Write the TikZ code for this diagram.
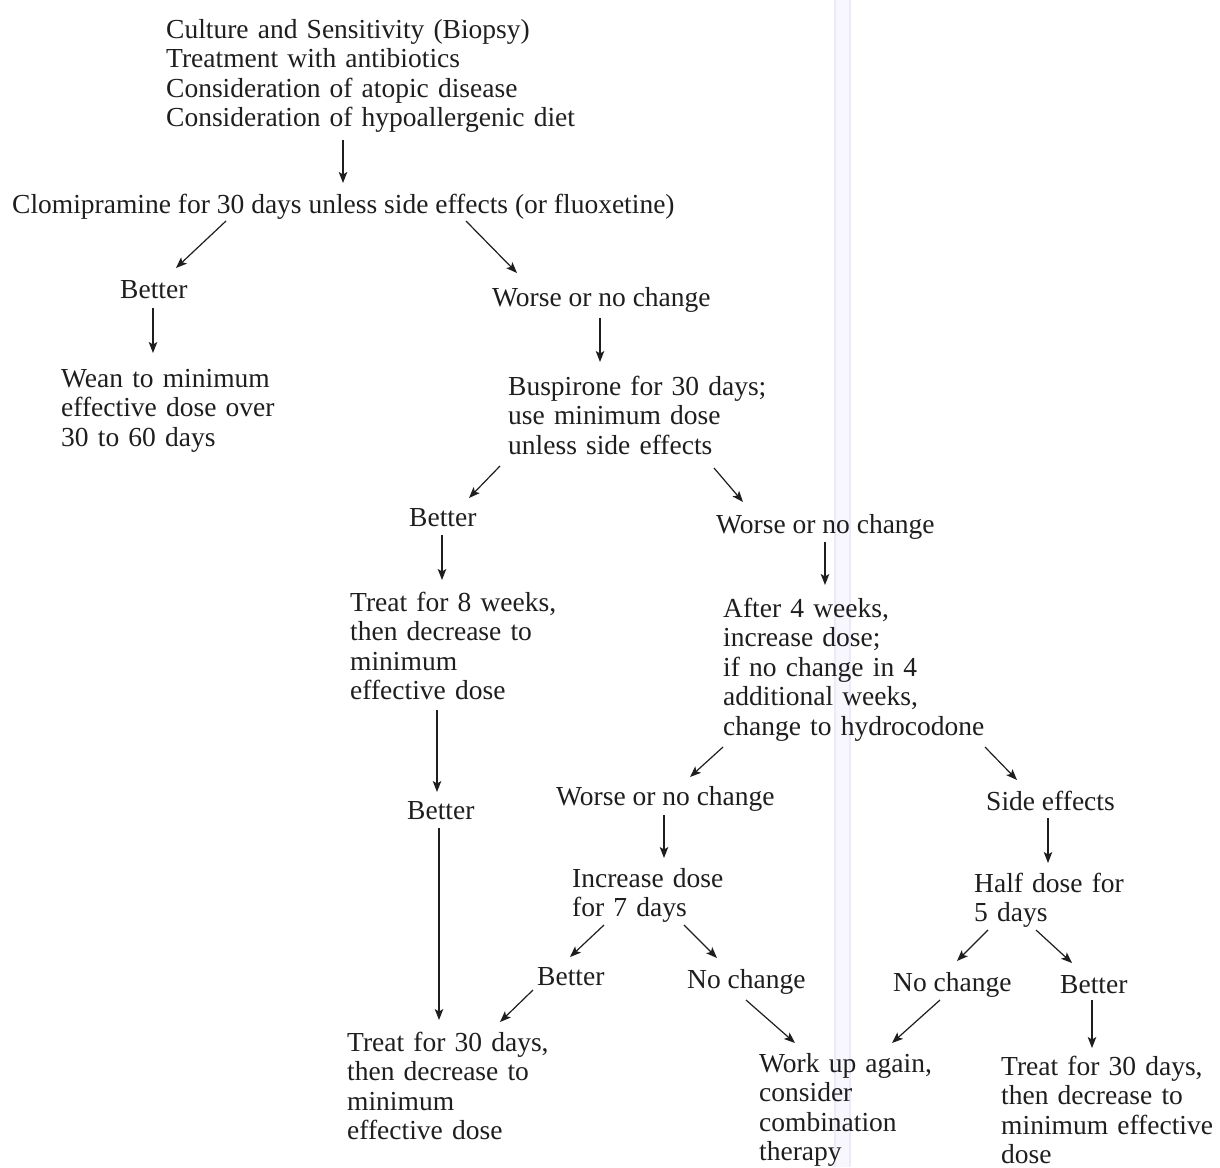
\documentclass[tikz,border=0pt]{standalone}
\usepackage{fontspec}
\setmainfont{Liberation Serif}
\usetikzlibrary{arrows.meta,calc}
\definecolor{ink}{HTML}{1E1E1E}
\definecolor{strip}{HTML}{F8F7FD}
\definecolor{stripedge}{HTML}{ECE9F8}
\begin{document}
\begin{tikzpicture}[x=1pt,y=-1pt,
  lbl/.style={anchor=base west,inner sep=0pt,text=ink,
    font=\fontsize{27.5}{29.5}\selectfont},
  blk/.style={lbl,text width=#1,align=left},
  blk/.default=520pt,
  arr/.style={-{Stealth[length=11pt,width=8.5pt,inset=2.5pt]},
    line width=1.2pt,draw=ink}]

% page
\useasboundingbox (0,0) rectangle (1220,1167);
\fill[white] (0,0) rectangle (1220,1167);
\fill[strip] (834,0) rectangle (851,1167);
\draw[stripedge,line width=1.5pt] (835,0) -- (835,1167);
\draw[stripedge,line width=1.5pt] (850,0) -- (850,1167);

% texts
\node[blk] (top) at (166,38) {Culture and Sensitivity (Biopsy)\\Treatment with antibiotics\\Consideration of atopic disease\\Consideration of hypoallergenic diet};
\node[lbl] (clomi) at (12,213) {Clomipramine for 30 days unless side effects (or fluoxetine)};
\node[lbl] (better1) at (120,298) {Better};
\node[lbl] (worse1) at (492,306) {Worse or no change};
\node[blk] (wean) at (61,387) {Wean to minimum\\effective dose over\\30 to 60 days};
\node[blk] (busp) at (508,395) {Buspirone for 30 days;\\use minimum dose\\unless side effects};
\node[lbl] (better2) at (409,526) {Better};
\node[lbl] (worse2) at (716,533) {Worse or no change};
\node[blk] (treat8) at (350,611) {Treat for 8 weeks,\\then decrease to\\minimum\\effective dose};
\node[blk] (after4) at (723,617) {After 4 weeks,\\increase dose;\\if no change in 4\\additional weeks,\\change to hydrocodone};
\node[lbl] (better3) at (407,819) {Better};
\node[lbl] (worse3) at (556,805) {Worse or no change};
\node[lbl] (side) at (986,810) {Side effects};
\node[blk] (incr) at (572,887) {Increase dose\\for 7 days};
\node[blk] (half) at (974,892) {Half dose for\\5 days};
\node[lbl] (better4) at (537,985) {Better};
\node[lbl] (nochange1) at (687,988) {No change};
\node[lbl] (nochange2) at (893,991) {No change};
\node[lbl] (better5) at (1060,993) {Better};
\node[blk] (treatL) at (347,1051) {Treat for 30 days,\\then decrease to\\minimum\\effective dose};
\node[blk] (workup) at (759,1072) {Work up again,\\consider\\combination\\therapy};
\node[blk=215pt] (treatR) at (1001,1075) {Treat for 30 days,\\then decrease to\\minimum effective\\dose};

% connectors
\draw[arr] ($(top.base west)+(177,102)$) -- ($(clomi.base west)+(331,-30)$);
\draw[arr] ($(clomi.base west)+(214,8)$) -- ($(better1.base west)+(56,-30)$);
\draw[arr] ($(clomi.base west)+(454,8)$) -- ($(worse1.base west)+(25,-33)$);
\draw[arr] ($(better1.base west)+(33,10)$) -- ($(wean.base west)+(92,-34)$);
\draw[arr] ($(worse1.base west)+(108,12)$) -- ($(busp.base west)+(92,-33)$);
\draw[arr] ($(busp.base west)+(-8,71)$) -- ($(better2.base west)+(60,-28)$);
\draw[arr] ($(busp.base west)+(206,73)$) -- ($(worse2.base west)+(27,-31)$);
\draw[arr] ($(better2.base west)+(33,9)$) -- ($(treat8.base west)+(92,-31)$);
\draw[arr] ($(worse2.base west)+(109,9)$) -- ($(after4.base west)+(102,-32)$);
\draw[arr] ($(treat8.base west)+(87,99)$) -- ($(better3.base west)+(30,-27)$);
\draw[arr] ($(after4.base west)+(0,130)$) -- ($(worse3.base west)+(134,-28)$);
\draw[arr] ($(after4.base west)+(262,130)$) -- ($(side.base west)+(31,-30)$);
\draw[arr] ($(better3.base west)+(32,9)$) -- ($(treatL.base west)+(92,-31)$);
\draw[arr] ($(worse3.base west)+(108,10)$) -- ($(incr.base west)+(92,-29)$);
\draw[arr] ($(side.base west)+(62,8)$) -- ($(half.base west)+(74,-29)$);
\draw[arr] ($(incr.base west)+(32,38)$) -- ($(better4.base west)+(33,-28)$);
\draw[arr] ($(incr.base west)+(112,38)$) -- ($(nochange1.base west)+(30,-30)$);
\draw[arr] ($(half.base west)+(14,38)$) -- ($(nochange2.base west)+(64,-30)$);
\draw[arr] ($(half.base west)+(62,38)$) -- ($(better5.base west)+(12,-30)$);
\draw[arr] ($(better4.base west)+(-4,5)$) -- ($(treatL.base west)+(153,-29)$);
\draw[arr] ($(nochange1.base west)+(59,12)$) -- ($(workup.base west)+(36,-29)$);
\draw[arr] ($(nochange2.base west)+(47,9)$) -- ($(workup.base west)+(133,-29)$);
\draw[arr] ($(better5.base west)+(32,7)$) -- ($(treatR.base west)+(91,-27)$);
\end{tikzpicture}
\end{document}
